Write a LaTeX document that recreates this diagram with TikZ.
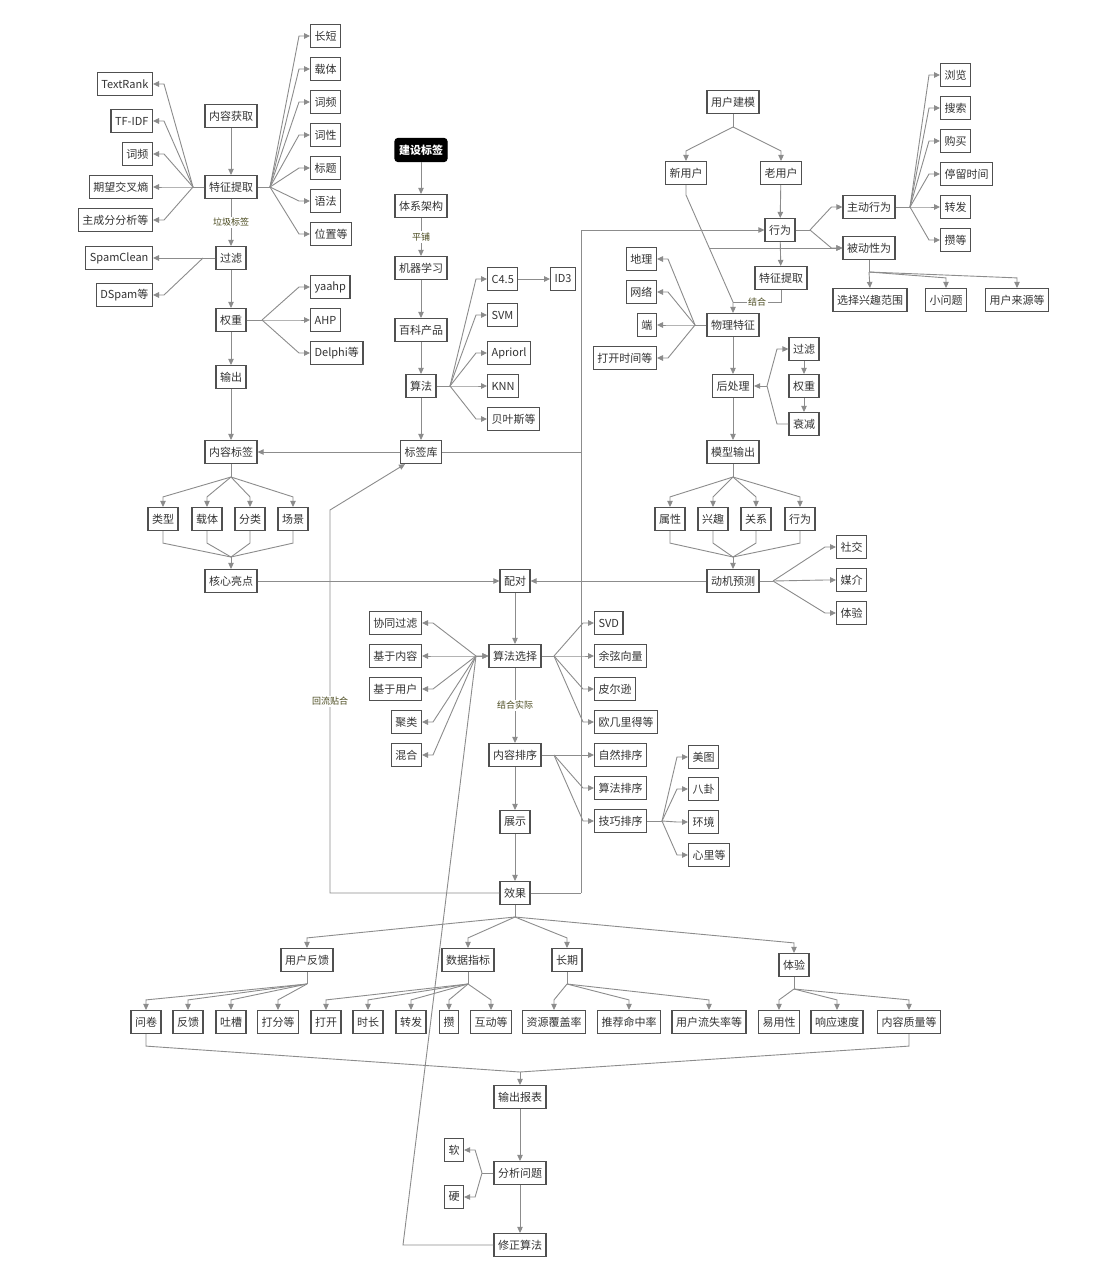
\documentclass[tikz,border=0pt]{standalone}
\usepackage{fontspec}
\setmainfont{Noto Sans CJK SC}
\usetikzlibrary{arrows.meta}
\definecolor{boxline}{HTML}{505050}
\definecolor{conn}{HTML}{8C8C8C}
\definecolor{lbltext}{HTML}{4A4A1E}
\tikzset{
	box/.style={draw=boxline, line width=1.2pt, fill=white, text=black!80, inner xsep=4pt, inner ysep=0pt, minimum height=23pt, font=\fontsize{11}{13}\selectfont},
	blackbox/.style={box, draw=black, fill=black, text=white, rounded corners=3pt, font=\fontsize{11}{13}\selectfont\bfseries},
	ln/.style={draw=conn, line width=0.9pt},
	arr/.style={ln, -{Triangle[width=5.5pt,length=6pt]}},
	lbl/.style={fill=white, inner sep=1.5pt, text=lbltext, font=\fontsize{9}{10}\selectfont}
}
\def\fanleft(#1)(#2){\draw[arr] (#1) -- ([xshift=11pt]#2.east) -- (#2.east);}
\def\fanright(#1)(#2){\draw[arr] (#1) -- ([xshift=-11pt]#2.west) -- (#2.west);}
\def\fandown(#1)(#2){\draw[arr] (#1) -- ([yshift=10pt]#2.north) -- (#2.north);}
\def\joinup(#1)(#2){\draw[ln] (#1.south) -- ([yshift=-12pt]#1.south) -- (#2);}

\begin{document}
\begin{tikzpicture}[x=1pt, y=-1pt]
			%%%%% START %%%%%
			\fill[white] (0,0) rectangle (1094,1280);
			\useasboundingbox (0,0) rectangle (1094,1280);
			
			%%%%% content tags
			\node[box] (nrhq) at (231,116) {内容获取};
			\node[box] (tztq) at (231,187) {特征提取};
			\node[box, anchor=east] (textrank) at (153,84) {TextRank};
			\node[box, anchor=east] (tfidf) at (153,121) {TF-IDF};
			\node[box, anchor=east] (cipin) at (153,154) {词频};
			\node[box, anchor=east] (qwjc) at (153,187) {期望交叉熵};
			\node[box, anchor=east] (zcf) at (153,220) {主成分分析等};
			\node[box, anchor=west] (changduan) at (310,36) {长短};
			\node[box, anchor=west] (zaiti) at (310,69) {载体};
			\node[box, anchor=west] (cipin2) at (310,102) {词频};
			\node[box, anchor=west] (cixing) at (310,135) {词性};
			\node[box, anchor=west] (biaoti) at (310,168) {标题};
			\node[box, anchor=west] (yufa) at (310,201) {语法};
			\node[box, anchor=west] (weizhi) at (310,234) {位置等};
			\node[box] (guolv) at (231,258) {过滤};
			\node[box, anchor=east] (spamclean) at (153,258) {SpamClean};
			\node[box, anchor=east] (dspam) at (153,295) {DSpam等};
			\node[box] (quanzhong) at (231,320) {权重};
			\node[box, anchor=west] (yaahp) at (310,287) {yaahp};
			\node[box, anchor=west] (ahp) at (310,320) {AHP};
			\node[box, anchor=west] (delphi) at (310,353) {Delphi等};
			\node[box] (shuchu) at (231,377) {输出};
			\node[box] (nrbq) at (231,452) {内容标签};
			\node[box] (leixing) at (163,519) {类型};
			\node[box] (zaiti2) at (207,519) {载体};
			\node[box] (fenlei) at (250,519) {分类};
			\node[box] (changjing) at (293,519) {场景};
			\node[box] (hxld) at (231,581) {核心亮点};
			
			%%%%% tag system
			\node[blackbox] (jsbq) at (421,150) {建设标签};
			\node[box] (txjg) at (421,206) {体系架构};
			\node[box] (jqxx) at (421,268) {机器学习};
			\node[box] (bkcp) at (421,330) {百科产品};
			\node[box] (suanfa) at (421,386) {算法};
			\node[box, anchor=west] (c45) at (487,279) {C4.5};
			\node[box, anchor=west] (id3) at (550,279) {ID3};
			\node[box, anchor=west] (svm) at (487,315) {SVM};
			\node[box, anchor=west] (apriorl) at (487,353) {Apriorl};
			\node[box, anchor=west] (knn) at (487,386) {KNN};
			\node[box, anchor=west] (bys) at (487,419) {贝叶斯等};
			\node[box] (bqk) at (421,452) {标签库};
			
			%%%%% user model
			\node[box] (yhjm) at (733,102) {用户建模};
			\node[box] (xyh) at (686,173) {新用户};
			\node[box] (lyh) at (781,173) {老用户};
			\node[box] (xingwei) at (780,230) {行为};
			\node[box] (tztq2) at (781,278) {特征提取};
			\node[box] (zdxw) at (869,207) {主动行为};
			\node[box] (bdxw) at (869,248) {被动性为};
			\node[box, anchor=west] (liulan) at (940,75) {浏览};
			\node[box, anchor=west] (sousuo) at (940,108) {搜索};
			\node[box, anchor=west] (goumai) at (940,141) {购买};
			\node[box, anchor=west] (tlsj) at (940,174) {停留时间};
			\node[box, anchor=west] (zhuanfa) at (940,207) {转发};
			\node[box, anchor=west] (zan) at (940,240) {攒等};
			\node[box] (xzxq) at (870,300) {选择兴趣范围};
			\node[box] (xwt) at (946,300) {小问题};
			\node[box] (yhly) at (1017,300) {用户来源等};
			\node[box] (wltz) at (733,325) {物理特征};
			\node[box, anchor=east] (dili) at (657,259) {地理};
			\node[box, anchor=east] (wangluo) at (657,292) {网络};
			\node[box, anchor=east] (duan) at (657,325) {端};
			\node[box, anchor=east] (dksj) at (657,358) {打开时间等};
			\node[box] (hcl) at (733,386) {后处理};
			\node[box] (guolv2) at (804,349) {过滤};
			\node[box] (quanzhong2) at (804,386) {权重};
			\node[box] (shuaijian) at (804,424) {衰减};
			\node[box] (mxsc) at (733,452) {模型输出};
			\node[box] (shuxing) at (670,519) {属性};
			\node[box] (xingqu) at (713,519) {兴趣};
			\node[box] (guanxi) at (756,519) {关系};
			\node[box] (xingwei2) at (800,519) {行为};
			\node[box] (djyc) at (733,581) {动机预测};
			\node[box, anchor=west] (shejiao) at (836,547) {社交};
			\node[box, anchor=west] (meijie) at (836,580) {媒介};
			\node[box, anchor=west] (tiyan) at (836,613) {体验};
			
			%%%%% matching
			\node[box] (peidui) at (515,581) {配对};
			\node[box] (sfxz) at (515,656) {算法选择};
			\node[box, anchor=east] (xtgl) at (422,623) {协同过滤};
			\node[box, anchor=east] (jynr) at (422,656) {基于内容};
			\node[box, anchor=east] (jyyh) at (422,689) {基于用户};
			\node[box, anchor=east] (julei) at (422,722) {聚类};
			\node[box, anchor=east] (hunhe) at (422,755) {混合};
			\node[box, anchor=west] (svd) at (594,623) {SVD};
			\node[box, anchor=west] (yxxl) at (594,656) {余弦向量};
			\node[box, anchor=west] (pex) at (594,689) {皮尔逊};
			\node[box, anchor=west] (ojld) at (594,722) {欧几里得等};
			\node[box] (nrpx) at (515,755) {内容排序};
			\node[box, anchor=west] (zrpx) at (594,755) {自然排序};
			\node[box, anchor=west] (sfpx) at (594,788) {算法排序};
			\node[box, anchor=west] (jqpx) at (594,821) {技巧排序};
			\node[box, anchor=west] (meitu) at (688,757) {美图};
			\node[box, anchor=west] (bagua) at (688,789) {八卦};
			\node[box, anchor=west] (huanjing) at (688,822) {环境};
			\node[box, anchor=west] (xinli) at (688,855) {心里等};
			\node[box] (zhanshi) at (515,822) {展示};
			\node[box] (xiaoguo) at (515,893) {效果};
			
			%%%%% evaluation
			\node[box] (yhfk) at (307,960) {用户反馈};
			\node[box] (sjzb) at (468,960) {数据指标};
			\node[box] (changqi) at (567,960) {长期};
			\node[box] (tiyan2) at (794,965) {体验};
			\node[box] (wenjuan) at (146,1022) {问卷};
			\node[box] (fankui) at (188,1022) {反馈};
			\node[box] (tucao) at (231,1022) {吐槽};
			\node[box] (dafen) at (278,1022) {打分等};
			\node[box] (dakai) at (326,1022) {打开};
			\node[box] (shichang) at (368,1022) {时长};
			\node[box] (zhuanfa2) at (411,1022) {转发};
			\node[box] (zan2) at (449,1022) {攒};
			\node[box] (hudong) at (491,1022) {互动等};
			\node[box] (zyfg) at (554,1022) {资源覆盖率};
			\node[box] (tjmz) at (629,1022) {推荐命中率};
			\node[box] (yhls) at (709,1022) {用户流失率等};
			\node[box] (yyx) at (779,1022) {易用性};
			\node[box] (xysd) at (837,1022) {响应速度};
			\node[box] (nrzl) at (909,1022) {内容质量等};
			\node[box] (scbb) at (520,1097) {输出报表};
			\node[box] (fxwt) at (520,1173) {分析问题};
			\node[box] (ruan) at (454,1150) {软};
			\node[box] (ying) at (454,1197) {硬};
			\node[box] (xzsf) at (520,1245) {修正算法};
			
			%%%%% connectors: content tags
			\draw[arr] (nrhq) -- (tztq);
			\coordinate (tzl) at (193,187);
			\coordinate (tzr) at (270,187);
			\draw[ln] (tztq.west) -- (tzl);
			\draw[ln] (tztq.east) -- (tzr);
			\fanleft(tzl)(textrank)
			\fanleft(tzl)(tfidf)
			\fanleft(tzl)(cipin)
			\fanleft(tzl)(qwjc)
			\fanleft(tzl)(zcf)
			\fanright(tzr)(changduan)
			\fanright(tzr)(zaiti)
			\fanright(tzr)(cipin2)
			\fanright(tzr)(cixing)
			\fanright(tzr)(biaoti)
			\fanright(tzr)(yufa)
			\fanright(tzr)(weizhi)
			\draw[arr] (tztq) -- node[lbl]{垃圾标签} (guolv);
			\draw[arr] (guolv.west) -- (spamclean.east);
			\coordinate (gll) at (203,258);
			\fanleft(gll)(dspam)
			\draw[arr] (guolv) -- (quanzhong);
			\coordinate (qzr) at (262,320);
			\draw[ln] (quanzhong.east) -- (qzr);
			\fanright(qzr)(yaahp)
			\fanright(qzr)(ahp)
			\fanright(qzr)(delphi)
			\draw[arr] (quanzhong) -- (shuchu);
			\draw[arr] (shuchu) -- (nrbq);
			\coordinate (nrbqf) at (231,477);
			\draw[ln] (nrbq.south) -- (nrbqf);
			\fandown(nrbqf)(leixing)
			\fandown(nrbqf)(zaiti2)
			\fandown(nrbqf)(fenlei)
			\fandown(nrbqf)(changjing)
			\coordinate (hxldm) at (231,557);
			\joinup(leixing)(hxldm)
			\joinup(zaiti2)(hxldm)
			\joinup(fenlei)(hxldm)
			\joinup(changjing)(hxldm)
			\draw[arr] (hxldm) -- (hxld.north);
			
			%%%%% connectors: tag system
			\draw[arr] (jsbq) -- (txjg);
			\draw[arr] (txjg) -- node[lbl]{平铺} (jqxx);
			\draw[arr] (jqxx) -- (bkcp);
			\draw[arr] (bkcp) -- (suanfa);
			\draw[arr] (suanfa) -- (bqk);
			\coordinate (sfr) at (450,386);
			\draw[ln] (suanfa.east) -- (sfr);
			\fanright(sfr)(c45)
			\fanright(sfr)(svm)
			\fanright(sfr)(apriorl)
			\fanright(sfr)(knn)
			\fanright(sfr)(bys)
			\draw[arr] (c45) -- (id3);
			\draw[arr] (bqk) -- (nrbq);
			
			%%%%% connectors: user model
			\coordinate (yhjmf) at (733,127);
			\draw[ln] (yhjm.south) -- (yhjmf);
			\fandown(yhjmf)(xyh)
			\fandown(yhjmf)(lyh)
			\draw[arr] (lyh) -- (xingwei);
			\draw[arr] (xingwei) -- (tztq2);
			\coordinate (xwr) at (810,230);
			\draw[ln] (xingwei.east) -- (xwr);
			\fanright(xwr)(zdxw)
			\fanright(xwr)(bdxw)
			\coordinate (zdr) at (910,207);
			\draw[ln] (zdxw.east) -- (zdr);
			\fanright(zdr)(liulan)
			\fanright(zdr)(sousuo)
			\fanright(zdr)(goumai)
			\fanright(zdr)(tlsj)
			\fanright(zdr)(zhuanfa)
			\fanright(zdr)(zan)
			\coordinate (bdf) at (869,272);
			\draw[ln] (bdxw.south) -- (bdf);
			\draw[arr] (bdf) -- (xzxq.north);
			\fandown(bdf)(xwt)
			\fandown(bdf)(yhly)
			\coordinate (xyhb) at (686,195);
			\coordinate (jiehe) at (733,302);
			\coordinate (bdst) at (709,248);
			\draw[arr] (xyh.south) -- (xyhb) -- (jiehe) -- (wltz.north);
			\draw[arr] (bdst) -- (bdxw.west);
			\draw[ln] (tztq2.south) -- (781,302) -- node[lbl]{结合} (jiehe);
			\coordinate (wll) at (695,325);
			\draw[ln] (wltz.west) -- (wll);
			\fanleft(wll)(dili)
			\fanleft(wll)(wangluo)
			\fanleft(wll)(duan)
			\fanleft(wll)(dksj)
			\draw[arr] (wltz) -- (hcl);
			\coordinate (hclr) at (767,386);
			\draw[arr] (hclr) -- (hcl.east);
			\draw[arr] (hclr) -- (777,349) -- (guolv2.west);
			\draw[ln] (shuaijian.west) -- (777,424) -- (hclr);
			\draw[arr] (guolv2) -- (quanzhong2);
			\draw[arr] (quanzhong2) -- (shuaijian);
			\draw[arr] (hcl) -- (mxsc);
			\coordinate (mxscf) at (733,477);
			\draw[ln] (mxsc.south) -- (mxscf);
			\fandown(mxscf)(shuxing)
			\fandown(mxscf)(xingqu)
			\fandown(mxscf)(guanxi)
			\fandown(mxscf)(xingwei2)
			\coordinate (djycm) at (733,557);
			\joinup(shuxing)(djycm)
			\joinup(xingqu)(djycm)
			\joinup(guanxi)(djycm)
			\joinup(xingwei2)(djycm)
			\draw[arr] (djycm) -- (djyc.north);
			\coordinate (djr) at (773,581);
			\draw[ln] (djyc.east) -- (djr);
			\fanright(djr)(shejiao)
			\fanright(djr)(meijie)
			\fanright(djr)(tiyan)
			
			%%%%% connectors: matching
			\draw[arr] (hxld) -- (peidui);
			\draw[arr] (djyc) -- (peidui);
			\draw[arr] (peidui) -- (sfxz);
			\coordinate (sfxzl) at (476,656);
			\draw[arr] (sfxzl) -- (sfxz.west);
			\fanleft(sfxzl)(xtgl)
			\fanleft(sfxzl)(jynr)
			\fanleft(sfxzl)(jyyh)
			\fanleft(sfxzl)(julei)
			\fanleft(sfxzl)(hunhe)
			\coordinate (sfxzr) at (554,656);
			\draw[ln] (sfxz.east) -- (sfxzr);
			\fanright(sfxzr)(svd)
			\fanright(sfxzr)(yxxl)
			\fanright(sfxzr)(pex)
			\fanright(sfxzr)(ojld)
			\draw[arr] (sfxz) -- node[lbl]{结合实际} (nrpx);
			\coordinate (nrpxr) at (554,755);
			\draw[ln] (nrpx.east) -- (nrpxr);
			\fanright(nrpxr)(zrpx)
			\fanright(nrpxr)(sfpx)
			\fanright(nrpxr)(jqpx)
			\coordinate (jqpxr) at (662,821);
			\draw[ln] (jqpx.east) -- (jqpxr);
			\fanright(jqpxr)(meitu)
			\fanright(jqpxr)(bagua)
			\fanright(jqpxr)(huanjing)
			\fanright(jqpxr)(xinli)
			\draw[arr] (nrpx) -- (zhanshi);
			\draw[arr] (zhanshi) -- (xiaoguo);
			
			%%%%% connectors: feedback
			\coordinate (fbr) at (581,893);
			\draw[ln] (xiaoguo.east) -- (fbr);
			\draw[arr] (fbr) -- (fbr |- xingwei.west) -- (xingwei.west);
			\draw[ln] (bqk.east) -- (bqk.east -| fbr);
			\coordinate (hlb) at (330,893);
			\coordinate (hlt) at (330,510);
			\draw[arr] (xiaoguo.west) -- (hlb) -- node[lbl]{回流贴合} (hlt) -- ([xshift=-16pt]bqk.south);
			
			%%%%% connectors: evaluation
			\coordinate (xgf) at (515,917);
			\draw[ln] (xiaoguo.south) -- (xgf);
			\fandown(xgf)(yhfk)
			\fandown(xgf)(sjzb)
			\fandown(xgf)(changqi)
			\fandown(xgf)(tiyan2)
			\coordinate (yhfkf) at (307,984);
			\draw[ln] (yhfk.south) -- (yhfkf);
			\fandown(yhfkf)(wenjuan)
			\fandown(yhfkf)(fankui)
			\fandown(yhfkf)(tucao)
			\fandown(yhfkf)(dafen)
			\coordinate (sjzbf) at (468,984);
			\draw[ln] (sjzb.south) -- (sjzbf);
			\fandown(sjzbf)(dakai)
			\fandown(sjzbf)(shichang)
			\fandown(sjzbf)(zhuanfa2)
			\fandown(sjzbf)(zan2)
			\fandown(sjzbf)(hudong)
			\coordinate (cqf) at (567,984);
			\draw[ln] (changqi.south) -- (cqf);
			\fandown(cqf)(zyfg)
			\fandown(cqf)(tjmz)
			\fandown(cqf)(yhls)
			\coordinate (tyf) at (794,989);
			\draw[ln] (tiyan2.south) -- (tyf);
			\fandown(tyf)(yyx)
			\fandown(tyf)(xysd)
			\fandown(tyf)(nrzl)
			\coordinate (bbm) at (520,1072);
			\joinup(wenjuan)(bbm)
			\joinup(nrzl)(bbm)
			\draw[arr] (bbm) -- (scbb.north);
			\draw[arr] (scbb) -- (fxwt);
			\draw[arr] (fxwt) -- (xzsf);
			\coordinate (fxl) at (482,1173);
			\draw[ln] (fxwt.west) -- (fxl);
			\fanleft(fxl)(ruan)
			\fanleft(fxl)(ying)
			\coordinate (xzl) at (403,1245);
			\draw[arr] (xzsf.west) -- (xzl) -- (sfxzl) -- (sfxz.west);
			
			%%%%% END %%%%%
\end{tikzpicture}
\end{document}
